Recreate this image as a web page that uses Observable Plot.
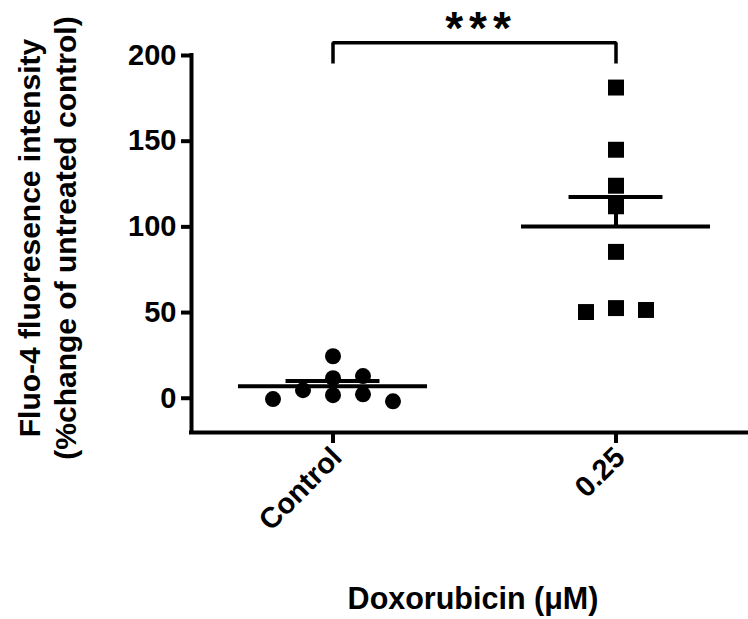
<!DOCTYPE html>
<html><head><meta charset="utf-8">
<script src="https://cdn.jsdelivr.net/npm/d3@7"></script>
<script src="https://cdn.jsdelivr.net/npm/@observablehq/plot@0.6"></script>
<style>
html,body{margin:0;padding:0;background:#fff;overflow:hidden;}
#chart svg{font-family:"Liberation Sans",Arial,sans-serif;font-weight:bold;color:#000;}
.stars text{letter-spacing:6px;}
</style></head><body><div id="chart"></div>
<script>
// ---- data ----
const groups = ["Control", "0.25"];
const controlValues = [-0.5, 4.7, 24.5, 11.7, 1.8, 12.9, 2.3, -1.8];
const controlSlots  = [-2, -1, 0, 0, 0, 1, 1, 2];
const doxValues = [181.3, 145, 124, 112, 85.4, 50.3, 52.6, 51.5];
const doxSlots  = [0, 0, 0, 0, 0, -1, 0, 1];
const yTicks = [0, 50, 100, 150, 200];
const yTitle = ["Fluo-4 fluoresence intensity", "(%change of untreated control)"];
const xTitle = "Doxorubicin (\u03BCM)";
const significance = "***";

// ---- derived tables ----
const slotStep = 0.106;
const points = [
  ...controlValues.map((v, i) => ({g: 0, v, slot: controlSlots[i]})),
  ...doxValues.map((v, i) => ({g: 1, v, slot: doxSlots[i]}))
];
const stats = [controlValues, doxValues].map((vals, g) => {
  const mean = d3.mean(vals);
  const sem = d3.deviation(vals) / Math.sqrt(vals.length);
  return {g, mean, sem};
});
const meanHalf = 0.334, capHalf = 0.166;
const bracketTop = 207.5, bracketFoot = 195.3;
const bracket = [
  {x: 0, y: bracketFoot}, {x: 0, y: bracketTop},
  {x: 1, y: bracketTop}, {x: 1, y: bracketFoot}
];

const chart = Plot.plot({
  width: 748, height: 619,
  marginLeft: 191, marginRight: 0, marginTop: 55, marginBottom: 187,
  x: {domain: [-0.5, 1.5], range: [191, 757]},
  y: {domain: [-20, 200]},
  marks: [
    Plot.ruleX([-0.5], {y1: -20, y2: 200, strokeWidth: 4, strokeLinecap: "square"}),
    Plot.ruleY([-20], {x1: -0.5, x2: 1.5, strokeWidth: 4, strokeLinecap: "square"}),
    Plot.axisY(yTicks, {tickSize: 10, tickPadding: 5, fontSize: 29, strokeWidth: 4}),
    Plot.axisX([0, 1], {tickFormat: i => groups[i], tickRotate: -45, tickSize: 11, tickPadding: 6, fontSize: 29, strokeWidth: 4, text: null}),
    Plot.axisX([0, 1], {tickFormat: i => groups[i], tickRotate: -45, tickSize: 0, tickPadding: 20, dx: 4, fontSize: 29}),
    Plot.dot(points.filter(d => d.g === 0), {x: d => d.g + d.slot * slotStep, y: "v", r: 8, fill: "black", symbol: "circle"}),
    Plot.dot(points.filter(d => d.g === 1), {x: d => d.g + d.slot * slotStep, y: "v", r: 9, fill: "black", symbol: "square"}),
    Plot.ruleY(stats, {y: "mean", x1: d => d.g - meanHalf, x2: d => d.g + meanHalf, strokeWidth: 4}),
    Plot.ruleY(stats, {y: d => d.mean + d.sem, x1: d => d.g - capHalf, x2: d => d.g + capHalf, strokeWidth: 4}),
    Plot.ruleX(stats, {x: "g", y1: "mean", y2: d => d.mean + d.sem, strokeWidth: 4}),
    Plot.line(bracket, {x: "x", y: "y", strokeWidth: 3.5, strokeLinejoin: "miter", strokeLinecap: "butt"}),
    Plot.text([significance], {x: 0.5, y: bracketTop, text: d => d, dx: 6.5, dy: 1, lineAnchor: "bottom", textAnchor: "middle", fontSize: 46, fontWeight: "bold", className: "stars"}),
    Plot.text([yTitle[0]], {text: d => d, frameAnchor: "left", textAnchor: "middle", rotate: -90, dx: -152, dy: -6, lineAnchor: "bottom", fontSize: 30, fontWeight: "bold"}),
    Plot.text([yTitle[1]], {text: d => d, frameAnchor: "left", textAnchor: "middle", rotate: -90, dx: -116, dy: -6, lineAnchor: "bottom", fontSize: 30, fontWeight: "bold"}),
    Plot.text([xTitle], {text: d => d, frameAnchor: "bottom", textAnchor: "middle", dx: 3, dy: 176, lineAnchor: "bottom", fontSize: 30.5, fontWeight: "bold"})
  ]
});
document.getElementById("chart").appendChild(chart);
</script>
</body></html>
